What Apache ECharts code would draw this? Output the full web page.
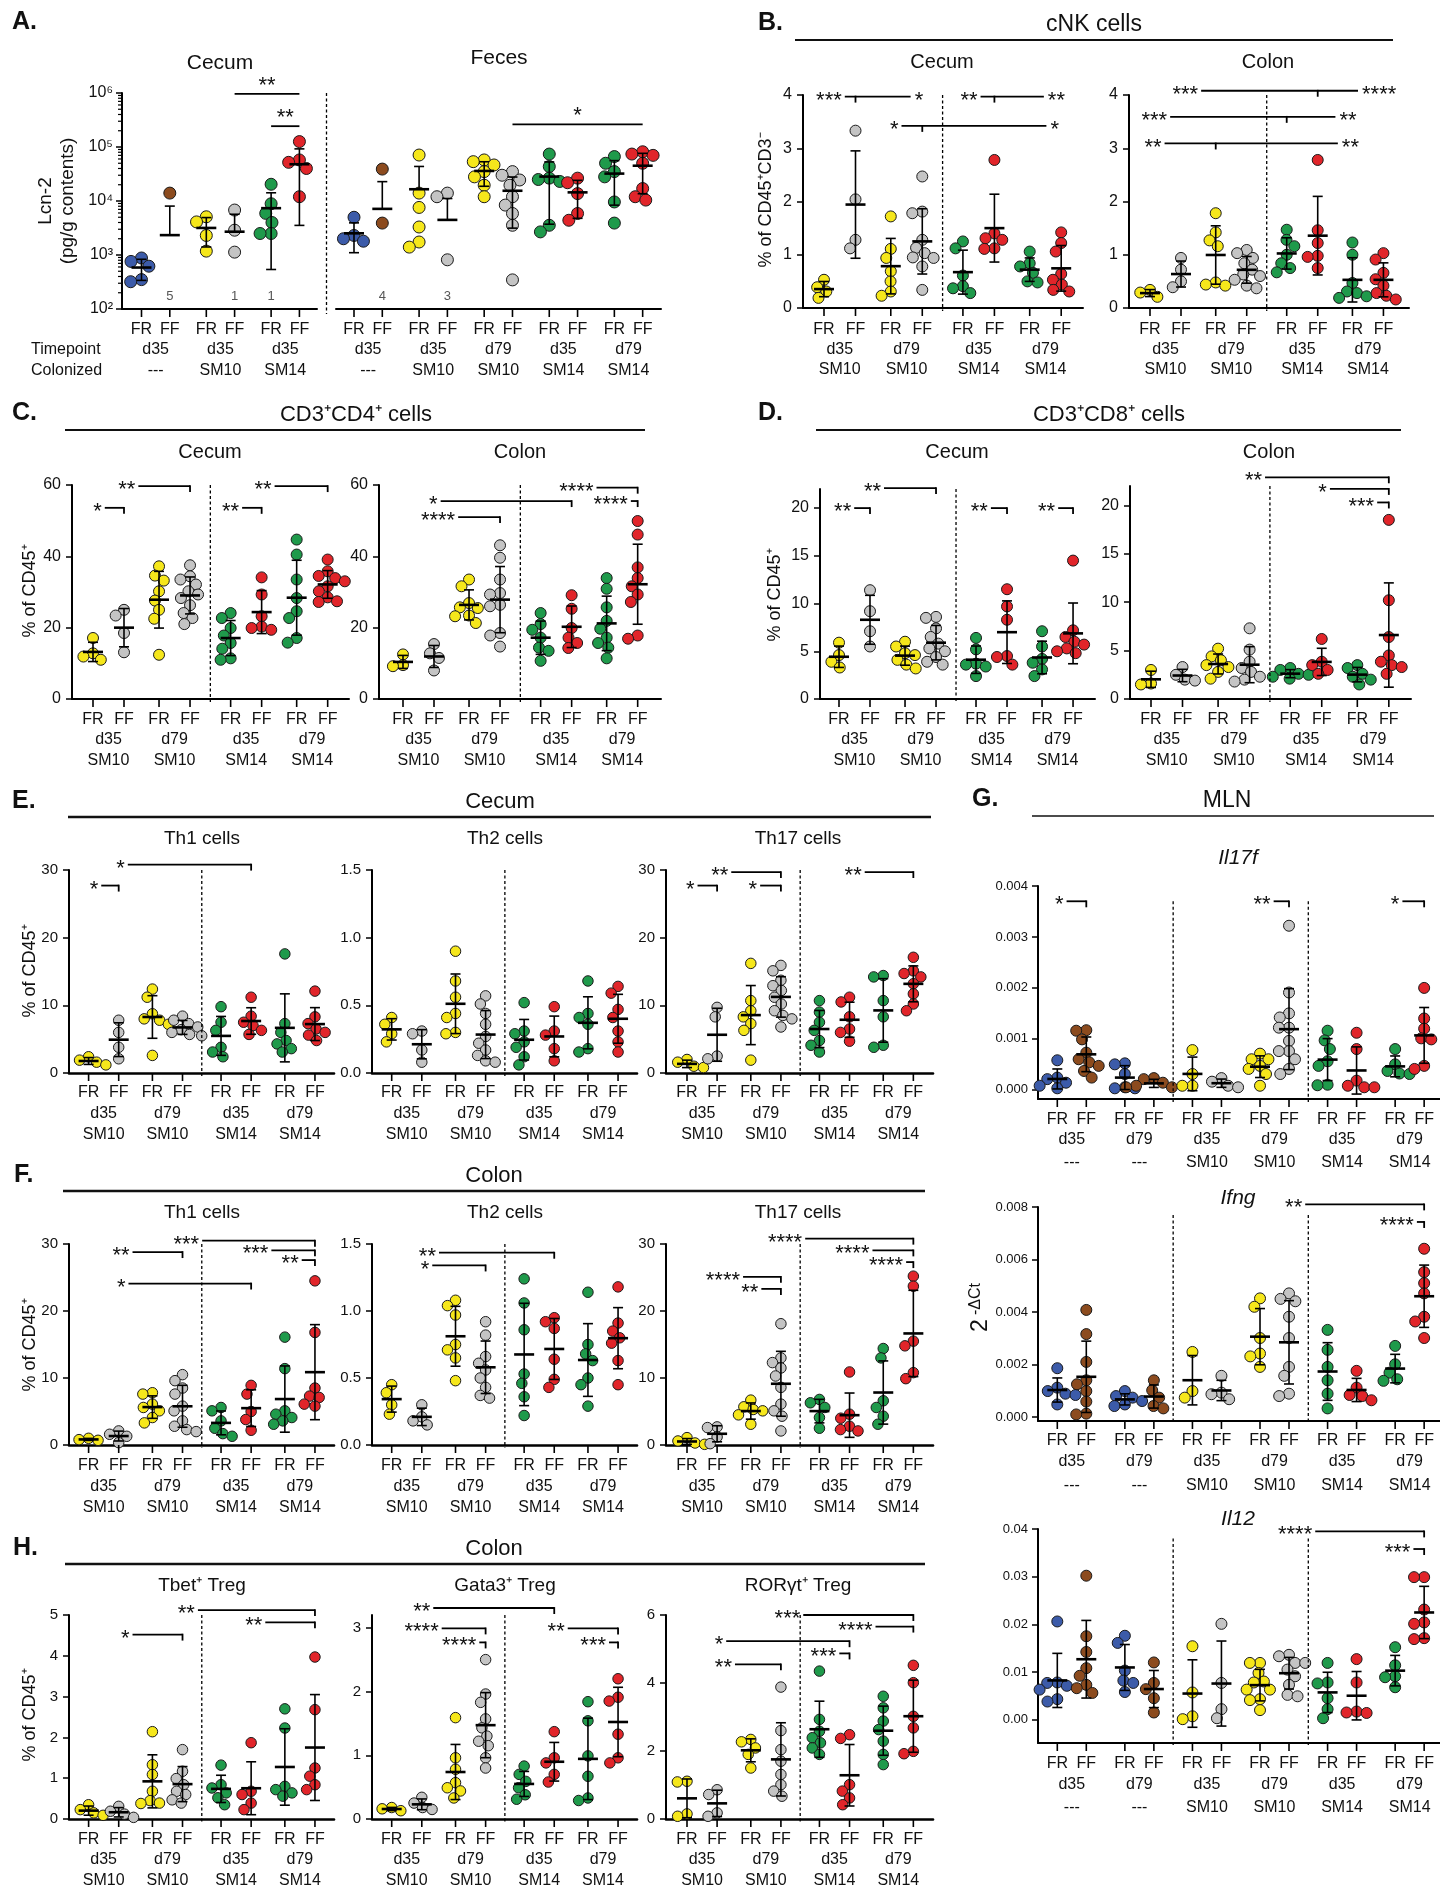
<!DOCTYPE html>
<html>
<head>
<meta charset="utf-8">
<title>Figure</title>
<script src="https://cdn.jsdelivr.net/npm/echarts@6.0.0/dist/echarts.min.js"></script>
<style>
html,body{margin:0;padding:0;background:#fff;}
#chart{width:1440px;height:1891px;}
</style>
</head>
<body>
<div id="chart"></div>
<script>
// ---------------- categories / labels ----------------
const treatLabels = ['FR', 'FF'];
const colors8 = ['yellow','gray','yellow','gray','green','red','green','red'];
const time8 = ['d35','d79','d35','d79'];
const colz8 = ['SM10','SM10','SM14','SM14'];
const colorsACecum = ['blue','brown','yellow','gray','green','red'];
const timeACecum = ['d35','d35','d35'];
const colzACecum = ['---','SM10','SM14'];
const colorsAFeces = ['blue','brown','yellow','gray','yellow','gray','green','red','green','red'];
const timeAFeces = ['d35','d35','d79','d35','d79'];
const colzAFeces = ['---','SM10','SM10','SM14','SM14'];
const colorsG = ['blue','brown','blue','brown','yellow','gray','yellow','gray','green','red','green','red'];
const timeG = ['d35','d79','d35','d79','d35','d79'];
const colzG = ['---','---','SM10','SM10','SM14','SM14'];

// ---------------- tick labels ----------------
const ticksA = [100, 1000, 10000, 100000, 1000000];
const ticksB = [0, 1, 2, 3, 4];
const ticksC = [0, 20, 40, 60];
const ticksD = [0, 5, 10, 15, 20];
const ticksTh = [0, 10, 20, 30];
const ticksTh2 = [0, 0.5, 1.0, 1.5];
const ticksTbet = [0, 1, 2, 3, 4, 5];
const ticksGata = [0, 1, 2, 3];
const ticksRor = [0, 2, 4, 6];
const ticksIl17f = [0, 0.001, 0.002, 0.003, 0.004];
const ticksIfng = [0, 0.002, 0.004, 0.006, 0.008];
const ticksIl12 = [0, 0.01, 0.02, 0.03, 0.04];

// ---------------- A: Lcn-2 (pg/g contents) ----------------
const A_cecum = [
  [880, 760, 620, 350, 320],
  [14000],
  [5100, 4100, 2300, 1180],
  [6800, 2880, 1130],
  [20400, 8900, 5900, 4000, 2500, 2500],
  [126000, 57600, 52000, 40000, 12000]
];
const A_cecum_undetected = [0, 5, 0, 1, 0, 1];
const A_cecum_counts = ['', '5', '', '1', '1', ''];
const A_feces = [
  [5000, 2300, 2000, 1800, 1500],
  [39000, 3900],
  [71000, 14000, 7600, 3300, 1740, 1400],
  [14000, 12000, 815],
  [57600, 53500, 46500, 35000, 28000, 19600, 12000],
  [35000, 30000, 24500, 19600, 12000, 8400, 5870, 3550, 346],
  [74000, 43500, 26500, 25000, 23000, 3550, 2680],
  [26500, 21800, 13700, 5870, 4400],
  [66500, 50000, 35000, 28000, 9600, 3900],
  [81600, 74000, 70000, 50000, 17000, 12000, 10400]
];
const A_feces_undetected = [0, 4, 0, 3, 0, 0, 0, 0, 0, 0];
const A_feces_counts = ['', '4', '', '3', '', '', '', '', '', ''];
const A_cecum_sig = [[960000, 3, 5, '**'], [243000, 4, 5, '**']];
const A_feces_sig = [[262000, 5, 9, '*']];

// ---------------- B: cNK cells ----------------
const B_cecum = [
  [0.53, 0.39, 0.31, 0.19],
  [3.33, 2.04, 1.28, 1.12],
  [1.72, 1.11, 0.94, 0.69, 0.50, 0.31, 0.23],
  [2.47, 1.81, 1.78, 1.28, 1.13, 1.03, 0.95, 0.94, 0.78, 0.34],
  [1.25, 1.12, 0.61, 0.41, 0.37, 0.28],
  [2.78, 1.40, 1.31, 1.28, 1.12, 1.11],
  [1.06, 0.84, 0.78, 0.66, 0.50, 0.48],
  [1.42, 1.22, 1.06, 0.64, 0.53, 0.44, 0.34, 0.31]
];
const B_colon = [
  [0.34, 0.29, 0.21],
  [0.94, 0.72, 0.50, 0.39],
  [1.78, 1.42, 1.27, 1.16, 0.48, 0.44, 0.42],
  [1.09, 1.03, 0.94, 0.84, 0.72, 0.63, 0.60, 0.53, 0.42, 0.37],
  [1.47, 1.28, 1.16, 1.00, 0.84, 0.75, 0.67],
  [2.78, 1.46, 1.22, 0.98, 0.96, 0.75],
  [1.23, 1.00, 0.47, 0.31, 0.28, 0.22, 0.19],
  [1.03, 0.91, 0.66, 0.54, 0.42, 0.28, 0.23, 0.16]
];
const B_cecum_sig = [[3.97, 0.66, 2.63, '***', 1, '*'], [3.42, 2.34, 6.53, '*', 3, '*'], [3.97, 4.56, 6.45, '**', 5, '**']];
const B_colon_sig = [[4.08, 1.58, 6.18, '***', 5, '****'], [3.59, 0.65, 5.51, '***', 4, '**'], [3.09, 0.47, 5.58, '**', 2, '**']];

// ---------------- C: CD3+CD4+ cells ----------------
const C_cecum = [
  [17.1, 12.8, 11.9, 11.0],
  [25.0, 23.4, 18.5, 13.1],
  [37.2, 34.6, 33.2, 30.2, 27.6, 25.0, 22.5, 12.4],
  [37.5, 34.4, 33.5, 32.1, 30.2, 29.3, 28.3, 26.3, 24.1, 22.7, 21.0],
  [24.1, 22.7, 19.9, 17.8, 15.7, 14.1, 11.4, 11.0],
  [34.1, 29.3, 23.2, 20.3, 19.9, 19.4],
  [44.7, 40.5, 33.5, 28.3, 24.6, 22.7, 17.1, 15.8],
  [39.1, 35.8, 34.5, 33.9, 33.0, 31.6, 30.2, 28.5, 27.4, 27.2]
];
const C_colon = [
  [12.5, 9.5, 9.2],
  [15.4, 12.8, 11.5, 8.0],
  [33.5, 31.6, 26.9, 25.7, 25.5, 23.4, 23.2, 21.3],
  [43.1, 39.6, 33.5, 29.7, 29.3, 26.4, 26.0, 18.5, 17.8, 14.7],
  [24.1, 21.0, 19.4, 17.2, 14.4, 13.5, 10.7],
  [29.1, 25.3, 19.9, 17.2, 15.7, 14.3],
  [33.9, 30.9, 25.7, 21.9, 19.7, 17.2, 15.7, 14.4, 11.4],
  [49.9, 46.1, 36.9, 33.9, 31.6, 29.3, 27.2, 17.8, 16.9]
];
const C_cecum_sig = [[59.7, 1.41, 3, '**'], [53.6, 0.38, 1, '*'], [53.6, 4.37, 5, '**'], [59.7, 5.37, 7, '**']];
const C_colon_sig = [[59.25, 5.71, 7, '****'], [55.5, 1.19, 5, '*'], [55.5, 6.78, 7, '****'], [51, 1.69, 3, '****']];

// ---------------- D: CD3+CD8+ cells ----------------
const D_cecum = [
  [5.9, 4.6, 3.9, 3.3],
  [11.4, 9.2, 7.1, 5.5],
  [6.0, 5.5, 4.8, 4.6, 4.1, 3.6, 3.2],
  [8.6, 8.5, 7.4, 6.5, 5.8, 5.3, 5.0, 4.4, 3.9, 3.6],
  [6.4, 5.2, 3.7, 3.6, 3.4, 2.4],
  [11.5, 9.7, 8.3, 4.5, 4.4, 3.6],
  [7.1, 5.5, 4.2, 3.8, 3.1, 2.4],
  [14.5, 7.2, 6.5, 6.0, 5.7, 5.3, 5.0, 4.8]
];
const D_colon = [
  [3.0, 1.6, 1.5],
  [3.3, 2.5, 2.0, 1.9],
  [5.2, 4.4, 4.0, 3.5, 3.3, 2.8, 2.1],
  [7.3, 5.1, 3.85, 3.2, 2.8, 2.3, 2.0, 1.8],
  [3.2, 3.0, 2.6, 2.5, 2.3, 2.1],
  [6.2, 3.85, 3.5, 3.0, 2.6],
  [3.5, 3.2, 2.6, 2.3, 2.0, 1.5],
  [18.5, 10.2, 6.4, 4.5, 3.85, 3.5, 3.3, 2.6]
];
const D_cecum_sig = [[22.1, 1.4, 3, '**'], [20, 0.49, 1, '**'], [20, 4.48, 5, '**'], [20, 6.52, 7, '**']];
const D_colon_sig = [[22.9, 3.38, 7, '**'], [21.7, 5.23, 7, '*'], [20.3, 6.63, 7, '***']];

// ---------------- E: Cecum Th cells ----------------
const E_th1 = [
  [2.4, 1.9, 1.6, 1.2],
  [7.8, 6.0, 3.8, 2.1],
  [12.4, 11.2, 8.75, 8.0, 7.8, 7.2, 2.6],
  [8.4, 7.8, 7.3, 6.8, 6.4, 6.0, 5.7, 5.5],
  [9.8, 7.5, 6.3, 3.8, 3.1, 2.4],
  [11.2, 8.4, 7.5, 7.0, 6.3, 5.7],
  [17.6, 7.3, 6.0, 4.8, 4.3, 3.6, 3.1],
  [12.1, 8.3, 7.3, 6.5, 6.0, 5.6, 4.8]
];
const E_th2 = [
  [0.41, 0.36, 0.29, 0.23],
  [0.31, 0.29, 0.17, 0.08],
  [0.90, 0.68, 0.56, 0.44, 0.41, 0.30, 0.29],
  [0.57, 0.51, 0.44, 0.36, 0.27, 0.22, 0.17, 0.13, 0.09, 0.08],
  [0.52, 0.31, 0.29, 0.23, 0.19, 0.12, 0.06],
  [0.49, 0.31, 0.28, 0.18, 0.09],
  [0.68, 0.44, 0.41, 0.36, 0.18, 0.155],
  [0.64, 0.59, 0.47, 0.41, 0.31, 0.23, 0.155]
];
const E_th17 = [
  [2.0, 1.6, 1.0, 0.8],
  [9.7, 8.3, 2.5, 2.1],
  [16.2, 10.7, 9.2, 8.3, 7.3, 6.3, 1.9],
  [15.9, 15.1, 13.7, 12.9, 12.2, 11.2, 10.2, 9.2, 8.5, 8.0, 6.8],
  [10.7, 9.0, 7.5, 6.3, 4.8, 4.1, 3.1],
  [11.2, 10.5, 8.3, 6.5, 6.0, 4.7],
  [14.4, 14.2, 10.7, 8.3, 4.1, 3.8],
  [17.1, 15.1, 14.7, 14.2, 13.2, 11.7, 10.2, 9.2]
];
const E_th1_sig = [[30.8, 1.27, 5, '*'], [27.7, 0.42, 1, '*']];
const E_th2_sig = [];
const E_th17_sig = [[29.7, 1.42, 3, '**'], [27.7, 0.35, 1, '*'], [27.7, 2.31, 3, '*'], [29.7, 5.45, 7, '**']];

// ---------------- F: Colon Th cells ----------------
const F_th1 = [
  [1.0, 0.8, 0.7],
  [2.1, 1.6, 1.3, 0.35],
  [7.8, 7.6, 6.1, 5.6, 5.1, 4.1, 3.3],
  [10.5, 9.6, 8.5, 7.6, 5.8, 5.1, 3.6, 2.8, 2.3, 2.0],
  [5.6, 5.1, 3.6, 2.5, 1.7, 1.3],
  [8.9, 7.6, 5.0, 3.8, 2.2],
  [16.1, 11.4, 5.1, 4.6, 4.1, 3.6, 3.1],
  [24.5, 16.8, 8.5, 7.3, 7.1, 6.1, 5.8]
];
const F_th2 = [
  [0.45, 0.39, 0.30, 0.23],
  [0.30, 0.21, 0.18, 0.15],
  [1.08, 1.04, 0.97, 0.75, 0.71, 0.65, 0.48],
  [0.92, 0.82, 0.66, 0.61, 0.56, 0.50, 0.43, 0.37, 0.35],
  [1.24, 1.06, 0.86, 0.53, 0.46, 0.36, 0.22],
  [0.95, 0.92, 0.87, 0.64, 0.49, 0.43],
  [1.14, 0.75, 0.68, 0.63, 0.50, 0.45, 0.29],
  [1.18, 0.91, 0.85, 0.80, 0.76, 0.63, 0.45]
];
const F_th17 = [
  [1.1, 0.6, 0.3, 0.1],
  [2.7, 2.6, 1.2, 0.2],
  [6.7, 5.7, 5.3, 5.1, 4.5, 3.1],
  [18.1, 13.0, 12.3, 11.5, 10.3, 8.6, 6.1, 5.1, 4.3, 2.1],
  [6.8, 6.3, 5.6, 4.1, 2.5],
  [10.9, 4.6, 4.0, 2.8, 2.3, 2.1],
  [14.4, 13.0, 6.6, 5.6, 4.3, 3.1],
  [25.2, 23.7, 15.5, 14.8, 10.8, 9.9]
];
const F_th1_sig = [[30.5, 3.51, 7, '***'], [28.8, 1.41, 3, '**'], [29.05, 5.6, 7, '***'], [27.6, 6.56, 7, '**'], [24.1, 1.29, 5, '*']];
const F_th2_sig = [[1.435, 1.51, 5, '**'], [1.34, 1.31, 3, '*']];
const F_th17_sig = [[30.8, 3.63, 7, '****'], [29.05, 5.68, 7, '****'], [27.3, 6.76, 7, '****'], [25.1, 1.77, 3, '****'], [23.3, 2.35, 3, '**']];

// ---------------- H: Colon Treg ----------------
const H_tbet = [
  [0.35, 0.23, 0.15, 0.09],
  [0.31, 0.19, 0.12, 0.04],
  [2.14, 1.33, 1.09, 0.68, 0.45, 0.39, 0.38],
  [1.70, 1.17, 0.99, 0.84, 0.68, 0.60, 0.47, 0.39],
  [1.32, 0.84, 0.76, 0.64, 0.52, 0.35],
  [1.87, 0.68, 0.60, 0.39, 0.23],
  [2.70, 2.23, 0.80, 0.72, 0.64, 0.56],
  [3.97, 2.68, 1.25, 1.05, 0.84, 0.72]
];
const H_gata3 = [
  [0.18, 0.16, 0.13],
  [0.34, 0.25, 0.18, 0.15],
  [1.59, 0.96, 0.78, 0.57, 0.49, 0.44, 0.33],
  [2.50, 1.96, 1.83, 1.57, 1.43, 1.30, 1.22, 1.15, 0.96, 0.80],
  [0.83, 0.70, 0.59, 0.49, 0.38, 0.31],
  [1.37, 0.96, 0.88, 0.70, 0.58],
  [1.84, 1.54, 0.99, 0.67, 0.33, 0.29],
  [2.20, 1.91, 1.85, 1.33, 0.96, 0.88]
];
const H_rorgt = [
  [1.11, 1.09, 0.15, 0.08],
  [0.86, 0.72, 0.18, 0.08],
  [2.34, 2.27, 2.09, 1.90, 1.50],
  [3.88, 2.60, 2.04, 1.70, 1.31, 1.01, 0.82, 0.67],
  [4.35, 2.93, 2.58, 2.39, 2.24, 2.09, 1.90],
  [2.48, 2.37, 1.01, 0.82, 0.62, 0.42],
  [3.61, 3.27, 2.88, 2.63, 2.29, 1.90, 1.60],
  [4.52, 4.01, 3.02, 2.68, 1.99, 1.92]
];
const H_tbet_sig = [[5.12, 3.4, 7, '**'], [4.82, 5.42, 7, '**'], [4.52, 1.41, 3, '*']];
const H_gata3_sig = [[3.31, 1.34, 5, '**'], [2.99, 1.59, 3, '****'], [2.77, 2.79, 3, '****'], [2.99, 5.4, 7, '**'], [2.77, 6.7, 7, '***']];
const H_rorgt_sig = [[6.0, 3.58, 7, '***'], [5.66, 5.77, 7, '****'], [5.23, 1.27, 5, '*'], [4.87, 4.66, 5, '***'], [4.55, 1.53, 3, '**']];

// ---------------- G: MLN (2^-dCt) ----------------
const G_il17f = [
  [0.00058, 0.00024, 0.00021, 0.00014, 0.00008, 0.00003],
  [0.00117, 0.00116, 0.00099, 0.00073, 0.00060, 0.00054, 0.00047, 0.00037, 0.00024],
  [0.00052, 0.00050, 0.00031, 0.00005, 0.00003, 0.00003],
  [0.00023, 0.00021, 0.00014, 0.00008, 0.00005, 0.00005],
  [0.00078, 0.00031, 0.00008, 0.00008],
  [0.00023, 0.00016, 0.00008, 0.00005],
  [0.00071, 0.00060, 0.00060, 0.00047, 0.00041, 0.00031, 0.00008],
  [0.00322, 0.00191, 0.00150, 0.00142, 0.00122, 0.00122, 0.00096, 0.00076, 0.00076, 0.00060, 0.00041, 0.00031],
  [0.00116, 0.00097, 0.00080, 0.00056, 0.00047, 0.00010, 0.00009],
  [0.00112, 0.00080, 0.00018, 0.00008, 0.00005, 0.00005],
  [0.00080, 0.00050, 0.00037, 0.00032, 0.00031],
  [0.00200, 0.00140, 0.00120, 0.00101, 0.00099, 0.00047, 0.00041]
];
const G_ifng = [
  [0.00186, 0.00112, 0.00099, 0.00089, 0.00084, 0.00048],
  [0.00408, 0.00316, 0.00210, 0.00140, 0.00125, 0.00099, 0.00059, 0.00013, 0.00010],
  [0.00099, 0.00080, 0.00074, 0.00061, 0.00048, 0.00042],
  [0.00140, 0.00102, 0.00074, 0.00042, 0.00033],
  [0.00248, 0.00099, 0.00074],
  [0.00157, 0.00093, 0.00087, 0.00068],
  [0.00452, 0.00420, 0.00301, 0.00242, 0.00231, 0.00191],
  [0.00471, 0.00450, 0.00441, 0.00382, 0.00301, 0.00191, 0.00157, 0.00089, 0.00080],
  [0.00332, 0.00256, 0.00191, 0.00140, 0.00089, 0.00033],
  [0.00176, 0.00112, 0.00084, 0.00080, 0.00064],
  [0.00271, 0.00201, 0.00169, 0.00144, 0.00138],
  [0.00641, 0.00552, 0.00510, 0.00471, 0.00382, 0.00364, 0.00301]
];
const G_il12 = [
  [0.0206, 0.0078, 0.0077, 0.0071, 0.0063, 0.0043, 0.0038],
  [0.0302, 0.0175, 0.0142, 0.0108, 0.0092, 0.0073, 0.0066, 0.0056],
  [0.0176, 0.0161, 0.0103, 0.0082, 0.0077, 0.0058],
  [0.0120, 0.0077, 0.0064, 0.0045, 0.0015],
  [0.0154, 0.0057, 0.0007, 0.0001],
  [0.0201, 0.0077, 0.0022, 0.0003],
  [0.0119, 0.0119, 0.0098, 0.0080, 0.0078, 0.0063, 0.0063, 0.0043, 0.0041, 0.0020],
  [0.0136, 0.0133, 0.0119, 0.0119, 0.0105, 0.0091, 0.0073, 0.0052, 0.0049],
  [0.0119, 0.0078, 0.0076, 0.0045, 0.0022, 0.0003],
  [0.0127, 0.0078, 0.0017, 0.0015, 0.0014],
  [0.0152, 0.0114, 0.0091, 0.0089, 0.0068],
  [0.0299, 0.0299, 0.0231, 0.0204, 0.0201, 0.0171, 0.0169]
];
const G_il17f_sig = [[0.0037, 0.32, 1, '*'], [0.0037, 6.47, 7, '**'], [0.0037, 10.25, 11, '*']];
const G_ifng_sig = [[0.0081, 7.42, 11, '**'], [0.00743, 10.75, 11, '****']];
const G_il12_sig = [[0.0395, 7.68, 11, '****'], [0.0358, 10.63, 11, '***']];

// ================= rendering =================
const FONT = "'Liberation Sans', Arial, Helvetica, sans-serif";
const COL = {blue:'#3c5ba9', brown:'#8c4b1e', yellow:'#f6e71b', gray:'#c4c4c4', green:'#1f9a4b', red:'#e1252a'};
const SUP = {2:'\u00B2', 3:'\u00B3', 4:'\u2074', 5:'\u2075', 6:'\u2076'};
function font(size, opt) { opt = opt || {}; return (opt.italic ? 'italic ' : '') + (opt.bold ? 'bold ' : '') + size + 'px ' + FONT; }
function T(x, y, text, fnt, align, fill) {
  return {type:'text', style:{text:text, x:x, y:y, font:fnt, fill:fill || '#111',
    align:align, textAlign:align, verticalAlign:'middle', textVerticalAlign:'middle'}};
}
function mean(a) { return a.reduce((s, v) => s + v, 0) / a.length; }
function sdev(a) { if (a.length < 2) return 0; const m = mean(a); return Math.sqrt(a.reduce((s, v) => s + (v - m) * (v - m), 0) / (a.length - 1)); }
function swarm(vals, toPx, d) {
  const order = vals.map((_, i) => i).sort((a, b) => vals[b] - vals[a]);
  const placed = [], off = new Array(vals.length).fill(0);
  order.forEach(i => {
    const y = toPx(vals[i]);
    const near = placed.filter(q => Math.abs(q.y - y) < d);
    const cands = [0];
    near.forEach(q => { const dx = Math.sqrt(d * d - (q.y - y) * (q.y - y)); cands.push(q.x + dx, q.x - dx); });
    cands.sort((a, b) => (Math.abs(a) - Math.abs(b)) || (a - b));
    let chosen = 0;
    for (const c of cands) {
      if (near.every(q => (q.x - c) * (q.x - c) + (q.y - y) * (q.y - y) >= d * d - 0.01)) { chosen = c; break; }
    }
    off[i] = chosen; placed.push({x:chosen, y:y});
  });
  return off;
}
function posAt(pos, f) { const i = Math.min(Math.floor(f), pos.length - 2); const t = f - i; return pos[i] + t * (pos[i + 1] - pos[i]); }

const grids = [], xAxes = [], yAxes = [], series = [], G = [];
const STARF = font(22);

function addPlot(p) {
  const gi = grids.length;
  const n = p.data.length;
  const ymin = p.ymin, ymax = p.ymax;
  const rows = p.rows || [21, 41, 62];
  const lf = font(p.labelFont || 16);
  grids.push({left:p.left, top:p.top, width:p.width, height:p.height, containLabel:false, outerBoundsMode:'none'});
  const pos = [];
  for (let i = 0; i < n; i++) pos.push(i + p.gap * Math.floor(i / 2) + (p.sep || 0) * Math.floor(i / 4));
  const xmin = -p.first / p.unit, xmax = xmin + p.width / p.unit;
  xAxes.push({type:'value', gridIndex:gi, min:xmin, max:xmax,
    axisLine:{show:true, onZero:false, lineStyle:{color:'#000', width:p.axisW || 2}},
    axisTick:{show:false}, axisLabel:{show:false}, splitLine:{show:false}});
  const yAx = {type:p.log ? 'log' : 'value', gridIndex:gi, min:ymin, max:ymax, show:p.showY !== false,
    axisLine:{show:true, onZero:false, lineStyle:{color:'#000', width:2}},
    axisTick:{show:true, inside:false, length:6, lineStyle:{color:'#000', width:1.5}, customValues:p.ticks},
    axisLabel:{show:true, color:'#111', fontFamily:FONT, fontSize:p.tickFont || 16, margin:p.tickMargin || 11,
      formatter:p.fmt, customValues:p.ticks},
    splitLine:{show:false}, minorTick:{show:false}, minorSplitLine:{show:false}};
  if (p.log) yAx.logBase = 10;
  yAxes.push(yAx);

  const toPx = p.log
    ? v => (Math.log10(v) - Math.log10(ymin)) / (Math.log10(ymax) - Math.log10(ymin)) * p.height
    : v => (v - ymin) / (ymax - ymin) * p.height;
  const sym = p.sym || 11;
  const common = {xAxisIndex:gi, yAxisIndex:gi, silent:true, animation:false};

  // points
  const pts = [];
  p.data.forEach((vals, g) => {
    const off = swarm(vals, toPx, sym * 0.92);
    vals.forEach((v, k) => pts.push({value:[pos[g] + off[k] / p.unit, v], itemStyle:{color:COL[p.colors[g]]}}));
  });
  series.push(Object.assign({type:'scatter', symbol:'circle', symbolSize:sym, z:2,
    itemStyle:{borderColor:'#1a1a1a', borderWidth:1, opacity:1}, data:pts}, common));

  // mean +/- SD
  const eb = p.data.map((vals, g) => {
    const all = vals.concat(new Array((p.zeros && p.zeros[g]) || 0).fill(0));
    const m = mean(all), s = sdev(all);
    const lo = m - s;
    const hasLo = lo > ymin ? 1 : 0;
    return [pos[g], m, hasLo ? lo : m, m + s, hasLo];
  });
  series.push(Object.assign({type:'custom', z:4, clip:false, encode:{x:0, y:1}, data:eb,
    renderItem:function (params, api) {
      const x = api.value(0);
      const pm = api.coord([x, api.value(1)]), ph = api.coord([x, api.value(3)]), pl = api.coord([x, api.value(2)]);
      const hasLo = api.value(4) > 0;
      const ls = {stroke:'#000', lineWidth:1.6};
      const ch = [
        {type:'line', shape:{x1:pm[0], y1:ph[1], x2:pm[0], y2:hasLo ? pl[1] : pm[1]}, style:ls},
        {type:'line', shape:{x1:pm[0] - 5, y1:ph[1], x2:pm[0] + 5, y2:ph[1]}, style:ls},
        {type:'line', shape:{x1:pm[0] - 10, y1:pm[1], x2:pm[0] + 10, y2:pm[1]}, style:{stroke:'#000', lineWidth:2.6}}
      ];
      if (hasLo) ch.push({type:'line', shape:{x1:pm[0] - 5, y1:pl[1], x2:pm[0] + 5, y2:pl[1]}, style:ls});
      return {type:'group', children:ch};
    }}, common));

  // x ticks + labels
  const xl = pos.map((x, i) => [x, ymin, i, i + 1 < n ? pos[i + 1] : x]);
  series.push(Object.assign({type:'custom', z:4, clip:false, encode:{x:0, y:1}, data:xl,
    renderItem:function (params, api) {
      const i = api.value(2);
      const c = api.coord([api.value(0), ymin]);
      const y0 = c[1];
      const ch = [
        {type:'line', shape:{x1:c[0], y1:y0, x2:c[0], y2:y0 + 8}, style:{stroke:'#000', lineWidth:1.6}},
        T(c[0], y0 + rows[0], treatLabels[i % 2], lf, 'center')
      ];
      if (i % 2 === 0) {
        const c2 = api.coord([api.value(3), ymin]);
        const mx = (c[0] + c2[0]) / 2;
        ch.push(T(mx, y0 + rows[1], p.time[i / 2], lf, 'center'));
        ch.push(T(mx, y0 + rows[2], p.colz[i / 2], lf, 'center'));
      }
      return {type:'group', children:ch};
    }}, common));

  // significance brackets
  if (p.sig && p.sig.length) {
    const sd = p.sig.map(s => p.sigMode === 'center'
      ? [posAt(pos, s[1]), s[0], posAt(pos, s[2]), 0]
      : [posAt(pos, s[1]), s[0], posAt(pos, s[2]), posAt(pos, s[4] !== undefined ? s[4] : s[2])]);
    series.push(Object.assign({type:'custom', z:5, clip:false, encode:{x:0, y:1}, data:sd,
      renderItem:function (params, api) {
        const it = p.sig[params.dataIndex];
        const a = api.coord([api.value(0), api.value(1)]);
        const b = api.coord([api.value(2), api.value(1)]);
        const y = a[1];
        const ls = {stroke:'#000', lineWidth:1.8};
        const ch = [{type:'line', shape:{x1:a[0], y1:y, x2:b[0], y2:y}, style:ls}];
        if (p.sigMode === 'center') {
          ch.push(T((a[0] + b[0]) / 2, y - 8, it[3], STARF, 'center'));
        } else {
          const t = api.coord([api.value(3), api.value(1)]);
          ch.push({type:'line', shape:{x1:t[0], y1:y - 0.9, x2:t[0], y2:y + 6}, style:ls});
          ch.push(T(a[0] - 3, y + 4, it[3], STARF, 'right'));
          if (it[5]) ch.push(T(b[0] + 4, y + 4, it[5], STARF, 'left'));
        }
        return {type:'group', children:ch};
      }}, common));
  }

  // dashed separators
  if (p.seps && p.seps.length) {
    const top = p.sepTop !== undefined ? p.sepTop : ymax;
    series.push(Object.assign({type:'custom', z:3, clip:false, encode:{x:0, y:1},
      data:p.seps.map(i => [(pos[i] + pos[i + 1]) / 2, top]),
      renderItem:function (params, api) {
        const a = api.coord([api.value(0), api.value(1)]);
        const b = api.coord([api.value(0), ymin]);
        return {type:'line', shape:{x1:a[0], y1:a[1], x2:a[0], y2:b[1] + 3},
          style:{stroke:'#000', lineWidth:1.3, lineDash:[3, 2.5]}};
      }}, common));
  }

  // sample-count annotations (A)
  if (p.counts) {
    series.push(Object.assign({type:'custom', z:4, clip:false, encode:{x:0, y:1},
      data:pos.map((x, i) => [x, ymin, i]),
      renderItem:function (params, api) {
        const c = api.coord([api.value(0), ymin]);
        const t = p.counts[api.value(2)];
        return T(c[0], c[1] - 13, t, font(13), 'center', '#555');
      }}, common));
  }

  // log minor ticks (A)
  if (p.minor) {
    const mv = [];
    for (let e = Math.log10(ymin); e < Math.log10(ymax); e++) for (let k = 2; k <= 9; k++) mv.push([xmin, k * Math.pow(10, e)]);
    series.push(Object.assign({type:'custom', z:4, clip:false, encode:{x:0, y:1}, data:mv,
      renderItem:function (params, api) {
        const c = api.coord([api.value(0), api.value(1)]);
        return {type:'line', shape:{x1:c[0] - 4, y1:c[1], x2:c[0], y2:c[1]}, style:{stroke:'#000', lineWidth:1.2}};
      }}, common));
  }
}

const fmtA = v => '10' + SUP[Math.round(Math.log10(v))];
const fmtInt = v => String(v);
const fmt1 = v => v.toFixed(1);
const fmt2 = v => v.toFixed(2);
const fmt3 = v => v.toFixed(3);

// ---- A
addPlot({data:A_cecum, colors:colorsACecum, time:timeACecum, colz:colzACecum, zeros:A_cecum_undetected, counts:A_cecum_counts,
  sig:A_cecum_sig, sigMode:'center', left:122, top:93, width:195, height:216, unit:28.3, first:19.5, gap:0.29, sep:0,
  log:true, ymin:100, ymax:1e6, ticks:ticksA, fmt:fmtA, minor:true, sym:12, rows:[21, 41, 62], tickMargin:9});
addPlot({data:A_feces, colors:colorsAFeces, time:timeAFeces, colz:colzAFeces, zeros:A_feces_undetected, counts:A_feces_counts,
  sig:A_feces_sig, sigMode:'center', left:336, top:93, width:325, height:216, unit:28.3, first:18, gap:0.3, sep:0,
  log:true, ymin:100, ymax:1e6, ticks:ticksA, fmt:fmtA, showY:false, sym:12, rows:[21, 41, 62]});
// ---- B
const base8 = {colors:colors8, time:time8, colz:colz8, seps:[3]};
addPlot(Object.assign({}, base8, {data:B_cecum, sig:B_cecum_sig, left:803, top:95, width:280, height:213, unit:31.5, first:21,
  gap:0.12, sep:0.17, ymin:0, ymax:4, ticks:ticksB, fmt:fmtInt, rows:[22, 42, 62]}));
addPlot(Object.assign({}, base8, {data:B_colon, sig:B_colon_sig, left:1129, top:95, width:280, height:213, unit:31, first:21,
  gap:0.12, sep:0.17, ymin:0, ymax:4, ticks:ticksB, fmt:fmtInt, rows:[22, 42, 62]}));
// ---- C
addPlot(Object.assign({}, base8, {data:C_cecum, sig:C_cecum_sig, left:72, top:485, width:277, height:214, unit:31, first:21,
  gap:0.13, sep:0.18, ymin:0, ymax:60, ticks:ticksC, fmt:fmtInt}));
addPlot(Object.assign({}, base8, {data:C_colon, sig:C_colon_sig, left:379, top:485, width:282, height:214, unit:31, first:24,
  gap:0.13, sep:0.18, ymin:0, ymax:60, ticks:ticksC, fmt:fmtInt}));
// ---- D
addPlot(Object.assign({}, base8, {data:D_cecum, sig:D_cecum_sig, left:820, top:489, width:275, height:210, unit:31, first:19,
  gap:0.13, sep:0.16, ymin:0, ymax:22, ticks:ticksD, fmt:fmtInt}));
addPlot(Object.assign({}, base8, {data:D_colon, sig:D_colon_sig, left:1130, top:486, width:281, height:213, unit:31.5, first:21,
  gap:0.13, sep:0.16, ymin:0, ymax:22, ticks:ticksD, fmt:fmtInt}));
// ---- E / F / H (three panels each)
const xE = [{left:69, width:265, first:19.6}, {left:372, width:265, first:19.7}, {left:666, width:267, first:21}];
function row3(top, height, rows, list) {
  list.forEach((d, k) => addPlot(Object.assign({}, base8, xE[k], {data:d[0], sig:d[1], top:top, height:height, unit:30.1,
    gap:0.12, sep:0.16, ymin:0, ymax:d[2], ticks:d[3], fmt:d[4], sym:10.5, tickFont:15, rows:rows, axisW:2.6})));
}
row3(870, 203, [20, 41, 62], [[E_th1, E_th1_sig, 30, ticksTh, fmtInt], [E_th2, E_th2_sig, 1.5, ticksTh2, fmt1], [E_th17, E_th17_sig, 30, ticksTh, fmtInt]]);
row3(1244, 201, [21, 42, 63], [[F_th1, F_th1_sig, 30, ticksTh, fmtInt], [F_th2, F_th2_sig, 1.5, ticksTh2, fmt1], [F_th17, F_th17_sig, 30, ticksTh, fmtInt]]);
row3(1615, 204, [21, 41, 62], [[H_tbet, H_tbet_sig, 5, ticksTbet, fmtInt], [H_gata3, H_gata3_sig, 3.2, ticksGata, fmtInt], [H_rorgt, H_rorgt_sig, 6, ticksRor, fmtInt]]);
// ---- G
const baseG = {colors:colorsG, time:timeG, colz:colzG, seps:[3, 7], left:1038, width:402, unit:29, first:19.3, gap:0.33, sep:0,
  tickFont:13, tickMargin:10, sym:11};
addPlot(Object.assign({}, baseG, {data:G_il17f, sig:G_il17f_sig, top:886, height:213, ymin:-0.00018, ymax:0.004, sepTop:0.0037,
  ticks:ticksIl17f, fmt:fmt3, rows:[21, 41, 64]}));
addPlot(Object.assign({}, baseG, {data:G_ifng, sig:G_ifng_sig, top:1207, height:214, ymin:-0.00015, ymax:0.008, sepTop:0.0077,
  ticks:ticksIfng, fmt:fmt3, rows:[20, 41, 65]}));
addPlot(Object.assign({}, baseG, {data:G_il12, sig:G_il12_sig, top:1529, height:214, ymin:-0.0049, ymax:0.04, sepTop:0.038,
  ticks:ticksIl12, fmt:fmt2, rows:[21, 42, 65]}));

// ---------------- titles & decorations ----------------
function gt(x, y, text, size, opt) {
  opt = opt || {};
  const al = opt.align || 'center';
  G.push({type:'text', x:x, y:y, rotation:opt.rot || 0, silent:true, z:10,
    style:{text:text, font:font(size, opt), fill:'#111', align:al, textAlign:al, verticalAlign:'middle', textVerticalAlign:'middle'}});
}
function gl(x1, x2, y, w) { G.push({type:'line', silent:true, z:10, shape:{x1:x1, y1:y, x2:x2, y2:y}, style:{stroke:'#111', lineWidth:w || 2}}); }
const R = Math.PI / 2;
// panel letters
[['A.', 12, 22], ['B.', 758, 23], ['C.', 12, 413], ['D.', 758, 413], ['E.', 12, 801], ['F.', 14, 1175], ['G.', 972, 799], ['H.', 13, 1548]]
  .forEach(a => gt(a[1], a[2], a[0], 25, {bold:true, align:'left'}));
// A
gt(220, 63, 'Cecum', 21); gt(499, 58, 'Feces', 21);
gt(46, 201, 'Lcn-2', 19, {rot:R}); gt(68, 201, '(pg/g contents)', 19, {rot:R});
gt(31, 350, 'Timepoint', 16, {align:'left'}); gt(31, 371, 'Colonized', 16, {align:'left'});
G.push({type:'line', silent:true, z:10, shape:{x1:326.5, y1:93, x2:326.5, y2:314}, style:{stroke:'#000', lineWidth:1.3, lineDash:[3, 2.5]}});
// B
gt(1094, 25, 'cNK cells', 23); gl(795, 1393, 40, 2);
gt(942, 62, 'Cecum', 20); gt(1268, 62, 'Colon', 20);
gt(766, 200, '% of CD45\u207ACD3\u207B', 18, {rot:R});
// C
gt(356, 415, 'CD3\u207ACD4\u207A cells', 22); gl(65, 645, 430, 2);
gt(210, 452, 'Cecum', 20); gt(520, 452, 'Colon', 20);
gt(30, 591, '% of CD45\u207A', 18, {rot:R});
// D
gt(1109, 415, 'CD3\u207ACD8\u207A cells', 22); gl(816, 1401, 430, 2);
gt(957, 452, 'Cecum', 20); gt(1269, 452, 'Colon', 20);
gt(775, 595, '% of CD45\u207A', 18, {rot:R});
// E
gt(500, 802, 'Cecum', 22); gl(68, 931, 817, 2.5);
gt(202, 839, 'Th1 cells', 19); gt(505, 839, 'Th2 cells', 19); gt(798, 839, 'Th17 cells', 19);
gt(30, 971, '% of CD45\u207A', 18, {rot:R});
// F
gt(494, 1176, 'Colon', 22); gl(63, 925, 1191, 2.5);
gt(202, 1213, 'Th1 cells', 19); gt(505, 1213, 'Th2 cells', 19); gt(798, 1213, 'Th17 cells', 19);
gt(30, 1345, '% of CD45\u207A', 18, {rot:R});
// H
gt(494, 1549, 'Colon', 22); gl(65, 925, 1564, 2.5);
gt(202, 1586, 'Tbet\u207A Treg', 19); gt(505, 1586, 'Gata3\u207A Treg', 19); gt(798, 1586, 'ROR\u03B3t\u207A Treg', 19);
gt(30, 1715, '% of CD45\u207A', 18, {rot:R});
// G
gt(1227, 801, 'MLN', 23); gl(1032, 1434, 816, 1.5);
gt(1238, 858, 'Il17f', 21, {italic:true}); gt(1238, 1198, 'Ifng', 21, {italic:true}); gt(1238, 1519, 'Il12', 21, {italic:true});
G.push({type:'group', x:981, y:1307, rotation:R, silent:true, z:10, children:[
  {type:'text', x:-25, y:0, style:{text:'2', font:font(23), fill:'#111', align:'left', textAlign:'left', verticalAlign:'middle', textVerticalAlign:'middle'}},
  {type:'text', x:-8, y:-5, style:{text:'-\u0394Ct', font:font(16), fill:'#111', align:'left', textAlign:'left', verticalAlign:'middle', textVerticalAlign:'middle'}}
]});

const chart = echarts.init(document.getElementById('chart'), null, {renderer:'canvas', width:1440, height:1891});
chart.setOption({
  animation:false, backgroundColor:'#ffffff', textStyle:{fontFamily:FONT},
  grid:grids, xAxis:xAxes, yAxis:yAxes, series:series, graphic:G
});
</script>
</body>
</html>
